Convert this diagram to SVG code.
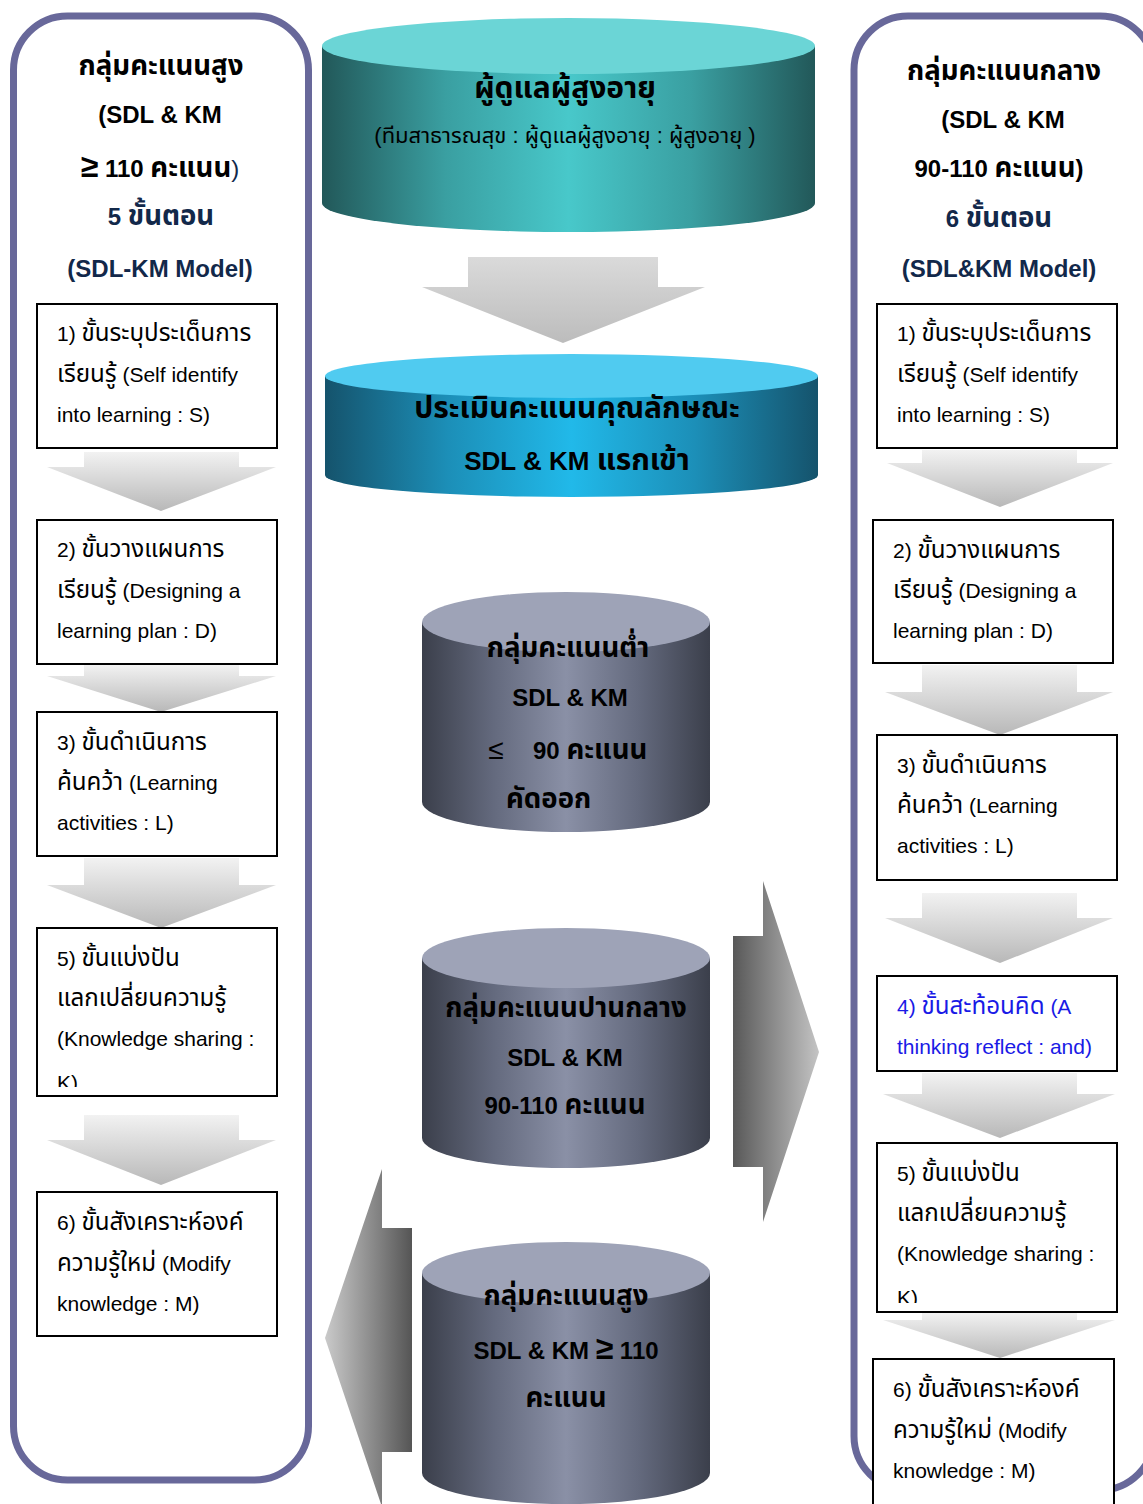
<svg xmlns="http://www.w3.org/2000/svg" width="1143" height="1504" viewBox="0 0 1143 1504">
<defs>
<style>
text{font-family:"Liberation Sans","Noto Sans Thai","Noto Sans","DejaVu Sans",sans-serif;}
.b{font-weight:bold;}
.h{font-size:24px;font-weight:bold;fill:#000;}
.nv{fill:#12284a;}
.bx{fill:#fff;stroke:#000;stroke-width:2;}
.bt{font-size:21px;fill:#000;}
.th{font-size:1.15em;}
.blue{fill:#1a1ae6;}
.panel{fill:#fff;stroke:#68689a;stroke-width:7;}
.ct{font-size:24px;font-weight:bold;fill:#000;text-anchor:middle;}
.sa{fill:url(#gSmall);}
</style>
<linearGradient id="gTeal" x1="0" y1="0" x2="1" y2="0">
<stop offset="0" stop-color="#225859"/><stop offset="0.25" stop-color="#3a9fa1"/><stop offset="0.5" stop-color="#48c8ca"/><stop offset="0.75" stop-color="#3a9fa1"/><stop offset="1" stop-color="#225859"/>
</linearGradient>
<linearGradient id="gBlue" x1="0" y1="0" x2="1" y2="0">
<stop offset="0" stop-color="#15536c"/><stop offset="0.25" stop-color="#1c8fb8"/><stop offset="0.5" stop-color="#21b9e9"/><stop offset="0.75" stop-color="#1c8fb8"/><stop offset="1" stop-color="#15536c"/>
</linearGradient>
<linearGradient id="gGrey" x1="0" y1="0" x2="1" y2="0">
<stop offset="0" stop-color="#3b3f4b"/><stop offset="0.25" stop-color="#646a7e"/><stop offset="0.5" stop-color="#8a90a6"/><stop offset="0.75" stop-color="#646a7e"/><stop offset="1" stop-color="#3b3f4b"/>
</linearGradient>
<linearGradient id="gSmall" x1="0" y1="0" x2="0" y2="1">
<stop offset="0" stop-color="#f2f2f2"/><stop offset="1" stop-color="#b8b8b8"/>
</linearGradient>
<linearGradient id="gDown" x1="0" y1="0" x2="0" y2="1">
<stop offset="0" stop-color="#dadada"/><stop offset="1" stop-color="#bcbcbc"/>
</linearGradient>
<linearGradient id="gRight" x1="0" y1="0" x2="1" y2="0">
<stop offset="0" stop-color="#585858"/><stop offset="1" stop-color="#c4c4c4"/>
</linearGradient>
<linearGradient id="gLeft" x1="0" y1="0" x2="1" y2="0">
<stop offset="0" stop-color="#cacaca"/><stop offset="1" stop-color="#555555"/>
</linearGradient>
<clipPath id="cL5"><rect x="37" y="928" width="240" height="159"/></clipPath>
<clipPath id="cR5"><rect x="877" y="1143" width="240" height="160"/></clipPath>
</defs>
<rect width="1143" height="1504" fill="#fff"/>

<!-- Left panel -->
<g id="panel-left">
<rect class="panel" x="13.5" y="16" width="295" height="1464" rx="54"/>
<text class="h" text-anchor="middle" x="161" y="75"><tspan class="th">กลุ่มคะแนนสูง</tspan></text>
<text class="h" text-anchor="middle" x="160" y="123">(SDL &amp; KM</text>
<text class="h" text-anchor="middle" x="160" y="177"><tspan font-size="32">≥</tspan> 110 <tspan class="th">คะแนน</tspan><tspan class="nv" font-weight="normal">)</tspan></text>
<text class="h nv" text-anchor="middle" x="161" y="225">5 <tspan class="th">ขั้นตอน</tspan></text>
<text class="h nv" text-anchor="middle" x="160" y="277">(SDL-KM Model)</text>
</g>

<!-- Right panel -->
<g id="panel-right">
<rect class="panel" x="854" y="16" width="300" height="1474" rx="54"/>
<text class="h" text-anchor="middle" x="1004" y="80"><tspan class="th">กลุ่มคะแนนกลาง</tspan></text>
<text class="h" text-anchor="middle" x="1003" y="128">(SDL &amp; KM</text>
<text class="h" text-anchor="middle" x="999" y="177">90-110 <tspan class="th">คะแนน</tspan>)</text>
<text class="h nv" text-anchor="middle" x="999" y="227">6 <tspan class="th">ขั้นตอน</tspan></text>
<text class="h nv" text-anchor="middle" x="999" y="277">(SDL&amp;KM Model)</text>
</g>

<!-- Connectors (arrows) -->
<g id="connectors">
<path class="sa" d="M84 452 H239 V467 H276 L161 511 L47 467 H84 Z"/>
<path class="sa" d="M84 665 H239 V676 H276 L161 712 L47 676 H84 Z"/>
<path class="sa" d="M84 858 H239 V885 H276 L161 928 L47 885 H84 Z"/>
<path class="sa" d="M84 1115 H239 V1140 H276 L161 1185 L47 1140 H84 Z"/>
<path class="sa" d="M922 450 H1077 V463 H1113 L1000 507 L887 463 H922 Z"/>
<path class="sa" d="M922 665 H1077 V692 H1113 L1000 735 L885 692 H922 Z"/>
<path class="sa" d="M922 893 H1077 V918 H1113 L1000 963 L885 918 H922 Z"/>
<path class="sa" d="M922 1073 H1077 V1094 H1115 L1000 1138 L883 1094 H922 Z"/>
<path class="sa" d="M922 1313 H1077 V1320 H1115 L1000 1358 L883 1320 H922 Z"/>
<path fill="url(#gDown)" d="M468 257 H658 V287 H705 L563 343 L422 287 H468 Z"/>
<path fill="url(#gRight)" d="M733 936 H763 V881 L819 1052 L763 1222 V1167 H733 Z"/>
<path fill="url(#gLeft)" d="M412 1228 H382 V1169 L325 1338 L382 1507 V1452 H412 Z"/>
</g>

<!-- Centre cylinders -->
<g id="cyl-caregiver">
<path fill="url(#gTeal)" d="M322 46 V203 A246.5 29 0 0 0 815 203 V46 Z"/>
<ellipse cx="568.5" cy="46" rx="246.5" ry="28" fill="#6bd5d6"/>
<text class="b" text-anchor="middle" x="565" y="98" font-size="30" fill="#000">ผู้ดูแลผู้สูงอายุ</text>
<text text-anchor="middle" x="565" y="143" font-size="22" fill="#000">(ทีมสาธารณสุข : ผู้ดูแลผู้สูงอายุ : ผู้สูงอายุ )</text>
</g>

<g id="cyl-assess">
<path fill="url(#gBlue)" d="M325 376 V475 A246.5 22 0 0 0 818 475 V376 Z"/>
<ellipse cx="571.5" cy="376" rx="246.5" ry="22" fill="#50cbf0"/>
<text class="ct" x="577" y="418" style="font-size:30px">ประเมินคะแนนคุณลักษณะ</text>
<text class="ct" x="577" y="470" style="font-size:26px">SDL &amp; KM <tspan class="th">แรกเข้า</tspan></text>
</g>

<g id="cyl-low">
<path fill="url(#gGrey)" d="M422 622 V802 A144 30 0 0 0 710 802 V622 Z"/>
<ellipse cx="566" cy="622" rx="144" ry="30" fill="#9ea3b7"/>
<text class="ct" x="568" y="657"><tspan class="th">กลุ่มคะแนนต่ำ</tspan></text>
<text class="ct" x="570" y="706">SDL &amp; KM</text>
<text x="496" y="759" font-size="28" text-anchor="middle" fill="#000">≤</text>
<text class="h" x="533" y="759">90 <tspan class="th">คะแนน</tspan></text>
<text class="h" x="506" y="808"><tspan class="th">คัดออก</tspan></text>
</g>

<g id="cyl-mid">
<path fill="url(#gGrey)" d="M422 958 V1138 A144 30 0 0 0 710 1138 V958 Z"/>
<ellipse cx="566" cy="958" rx="144" ry="30" fill="#9ea3b7"/>
<text class="ct" x="566" y="1017"><tspan class="th">กลุ่มคะแนนปานกลาง</tspan></text>
<text class="ct" x="565" y="1066">SDL &amp; KM</text>
<text class="ct" x="565" y="1114">90-110 <tspan class="th">คะแนน</tspan></text>
</g>

<g id="cyl-high">
<path fill="url(#gGrey)" d="M422 1273 V1473 A144 31 0 0 0 710 1473 V1273 Z"/>
<ellipse cx="566" cy="1273" rx="144" ry="31" fill="#9ea3b7"/>
<text class="ct" x="566" y="1305"><tspan class="th">กลุ่มคะแนนสูง</tspan></text>
<text class="ct" x="566" y="1359">SDL &amp; KM <tspan font-size="32">≥</tspan> 110</text>
<text class="ct" x="566" y="1407"><tspan class="th">คะแนน</tspan></text>
</g>

<!-- Left steps -->
<g id="L1">
<rect class="bx" x="37" y="304" width="240" height="144"/>
<text class="bt" x="57" y="341">1) <tspan class="th">ขั้นระบุประเด็นการ</tspan></text>
<text class="bt" x="57" y="382"><tspan class="th">เรียนรู้</tspan> (Self identify</text>
<text class="bt" x="57" y="422">into learning : S)</text>
</g>
<g id="L2">
<rect class="bx" x="37" y="520" width="240" height="144"/>
<text class="bt" x="57" y="557">2) <tspan class="th">ขั้นวางแผนการ</tspan></text>
<text class="bt" x="57" y="598"><tspan class="th">เรียนรู้</tspan> (Designing a</text>
<text class="bt" x="57" y="638">learning plan : D)</text>
</g>
<g id="L3">
<rect class="bx" x="37" y="712" width="240" height="144"/>
<text class="bt" x="57" y="750">3) <tspan class="th">ขั้นดำเนินการ</tspan></text>
<text class="bt" x="57" y="790"><tspan class="th">ค้นคว้า</tspan> (Learning</text>
<text class="bt" x="57" y="830">activities : L)</text>
</g>
<g id="L5">
<rect class="bx" x="37" y="928" width="240" height="168"/>
<text class="bt" x="57" y="966">5) <tspan class="th">ขั้นแบ่งปัน</tspan></text>
<text class="bt" x="57" y="1006"><tspan class="th">แลกเปลี่ยนความรู้</tspan></text>
<text class="bt" x="57" y="1046">(Knowledge sharing :</text>
<text class="bt" x="57" y="1090" clip-path="url(#cL5)">K)</text>
</g>
<g id="L6">
<rect class="bx" x="37" y="1192" width="240" height="144"/>
<text class="bt" x="57" y="1230">6) <tspan class="th">ขั้นสังเคราะห์องค์</tspan></text>
<text class="bt" x="57" y="1271"><tspan class="th">ความรู้ใหม่</tspan> (Modify</text>
<text class="bt" x="57" y="1311">knowledge : M)</text>
</g>

<!-- Right steps -->
<g id="R1">
<rect class="bx" x="877" y="304" width="240" height="144"/>
<text class="bt" x="897" y="341">1) <tspan class="th">ขั้นระบุประเด็นการ</tspan></text>
<text class="bt" x="897" y="382"><tspan class="th">เรียนรู้</tspan> (Self identify</text>
<text class="bt" x="897" y="422">into learning : S)</text>
</g>
<g id="R2">
<rect class="bx" x="873" y="520" width="240" height="143"/>
<text class="bt" x="893" y="558">2) <tspan class="th">ขั้นวางแผนการ</tspan></text>
<text class="bt" x="893" y="598"><tspan class="th">เรียนรู้</tspan> (Designing a</text>
<text class="bt" x="893" y="638">learning plan : D)</text>
</g>
<g id="R3">
<rect class="bx" x="877" y="735" width="240" height="145"/>
<text class="bt" x="897" y="773">3) <tspan class="th">ขั้นดำเนินการ</tspan></text>
<text class="bt" x="897" y="813"><tspan class="th">ค้นคว้า</tspan> (Learning</text>
<text class="bt" x="897" y="853">activities : L)</text>
</g>
<g id="R4">
<rect class="bx" x="877" y="976" width="240" height="95"/>
<text class="bt blue" x="897" y="1014">4) <tspan class="th">ขั้นสะท้อนคิด</tspan> (A</text>
<text class="bt blue" x="897" y="1054">thinking reflect : and)</text>
</g>
<g id="R5">
<rect class="bx" x="877" y="1143" width="240" height="169"/>
<text class="bt" x="897" y="1181">5) <tspan class="th">ขั้นแบ่งปัน</tspan></text>
<text class="bt" x="897" y="1221"><tspan class="th">แลกเปลี่ยนความรู้</tspan></text>
<text class="bt" x="897" y="1261">(Knowledge sharing :</text>
<text class="bt" x="897" y="1305" clip-path="url(#cR5)">K)</text>
</g>
<g id="R6">
<rect class="bx" x="873" y="1359" width="241" height="160"/>
<text class="bt" x="893" y="1397">6) <tspan class="th">ขั้นสังเคราะห์องค์</tspan></text>
<text class="bt" x="893" y="1438"><tspan class="th">ความรู้ใหม่</tspan> (Modify</text>
<text class="bt" x="893" y="1478">knowledge : M)</text>
</g>
</svg>
